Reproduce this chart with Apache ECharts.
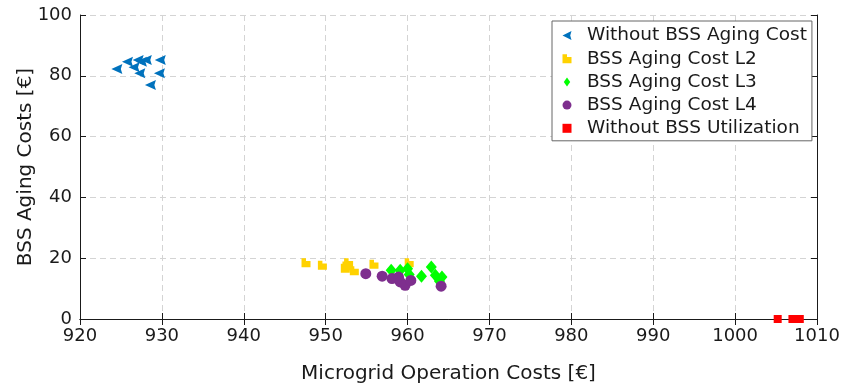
<!DOCTYPE html>
<html>
<head>
<meta charset="utf-8">
<script src="https://cdn.jsdelivr.net/npm/echarts@6/dist/echarts.min.js"></script>
<style>
  html, body { margin: 0; padding: 0; background: #fff; }
  #chart { width: 845px; height: 391px; }
</style>
</head>
<body>
<div id="chart"></div>
<script>
// Operation costs vs. BSS aging costs for each scenario
const seriesNames = [
  'Without BSS Aging Cost',
  'BSS Aging Cost L2',
  'BSS Aging Cost L3',
  'BSS Aging Cost L4',
  'Without BSS Utilization'
];

const noAgingX = [924.5, 925.8, 926.6, 927.1, 927.5, 928.1, 927.3, 928.6, 929.8, 929.7];
const noAgingY = [82.2, 84.6, 82.8, 85.2, 84.6, 85.2, 80.8, 77.0, 85.2, 80.8];

const agingL2X = [947.6, 949.6, 952.4, 952.8, 952.6, 953.5, 955.9, 960.2];
const agingL2Y = [18.5, 17.7, 16.7, 18.5, 17.4, 15.9, 18.0, 18.5];

const agingL3X = [958.0, 959.1, 960.0, 960.2, 961.7, 962.9, 963.4, 964.2, 963.9];
const agingL3Y = [16.0, 16.0, 16.5, 14.6, 14.1, 17.1, 14.4, 13.8, 12.4];

const agingL4X = [954.9, 956.9, 958.1, 958.9, 959.1, 959.7, 960.4, 964.1];
const agingL4Y = [14.9, 14.1, 13.3, 13.8, 12.2, 11.1, 12.7, 10.8];

const noBssX = [1005.2, 1007.0, 1007.5, 1007.9];
const noBssY = [0, 0, 0, 0];

const xTicks = { min: 920, max: 1010, interval: 10 };
const yTicks = { min: 0, max: 100, interval: 20 };

const FONT = 'DejaVu Sans';
const INK = '#1a1a1a';

function pairs(xs, ys) {
  return xs.map((x, i) => [x, ys[i]]);
}

// marker outlines (kept as paths so legend icons keep their aspect ratio)
const arrowLeft = 'path://M0,5 L10,0 L8.6,5 L10,10 Z';
const flagMark = 'path://M0,0 L5,0 L5,3 L10,3 L10,10 L0,10 Z';
const diamondMark = 'path://M5,0 L10,7 L5,14 L0,7 Z';
const squareMark = 'path://M0,0 L10,0 L10,10 L0,10 Z';
const dotMark = 'circle';

const chart = echarts.init(document.getElementById('chart'), null, { renderer: 'canvas' });

const axisLineStyle = { lineStyle: { color: INK, width: 1 } };
const tickStyle = { inside: true, length: 6, lineStyle: { color: INK, width: 1 } };
const gridLine = { show: true, lineStyle: { color: '#d4d4d4', type: [6, 4], width: 1 } };
const plain = v => String(v);

chart.setOption({
  animation: false,
  backgroundColor: '#fff',
  textStyle: { fontFamily: FONT, color: INK },
  grid: { left: 80, right: 28, top: 15, bottom: 72, containLabel: false },
  legend: {
    orient: 'vertical',
    left: 552,
    top: 21,
    padding: [5, 5, 3, 10.5],
    itemGap: 4.2,
    itemWidth: 30,
    itemHeight: 9,
    backgroundColor: '#fff',
    borderColor: '#666',
    borderWidth: 1,
    textStyle: { fontFamily: FONT, fontSize: 18.5, lineHeight: 18, color: INK },
    data: [
      { name: seriesNames[0], icon: arrowLeft },
      { name: seriesNames[1], icon: flagMark },
      { name: seriesNames[2], icon: diamondMark },
      { name: seriesNames[3], icon: dotMark },
      { name: seriesNames[4], icon: squareMark }
    ]
  },
  xAxis: [
    {
      type: 'value',
      min: xTicks.min, max: xTicks.max, interval: xTicks.interval,
      name: 'Microgrid Operation Costs [€]',
      nameLocation: 'middle',
      nameGap: 45,
      nameTextStyle: { fontFamily: FONT, fontSize: 20, color: INK },
      axisLine: axisLineStyle,
      axisTick: tickStyle,
      axisLabel: { fontFamily: FONT, fontSize: 18, color: INK, margin: 8, formatter: plain },
      splitLine: gridLine
    },
    {
      type: 'value', position: 'top',
      min: xTicks.min, max: xTicks.max, interval: xTicks.interval,
      axisLine: axisLineStyle,
      axisTick: tickStyle,
      axisLabel: { show: false },
      splitLine: { show: false }
    }
  ],
  yAxis: [
    {
      type: 'value',
      min: yTicks.min, max: yTicks.max, interval: yTicks.interval,
      name: 'BSS Aging Costs [€]',
      nameLocation: 'middle',
      nameGap: 44,
      nameMoveOverlap: false,
      nameTextStyle: { fontFamily: FONT, fontSize: 20, color: INK },
      axisLine: { show: true, lineStyle: { color: INK, width: 1 } },
      axisTick: { show: true, inside: true, length: 6, lineStyle: { color: INK, width: 1 } },
      axisLabel: { fontFamily: FONT, fontSize: 18, color: INK, margin: 8, formatter: plain },
      splitLine: gridLine
    },
    {
      type: 'value', position: 'right',
      min: yTicks.min, max: yTicks.max, interval: yTicks.interval,
      axisLine: { show: true, lineStyle: { color: INK, width: 1 } },
      axisTick: { show: true, inside: true, length: 6, lineStyle: { color: INK, width: 1 } },
      axisLabel: { show: false },
      splitLine: { show: false }
    }
  ],
  series: [
    {
      name: seriesNames[0], type: 'scatter',
      symbol: arrowLeft, symbolSize: [11, 10],
      itemStyle: { color: '#0072BD', opacity: 1 },
      data: pairs(noAgingX, noAgingY)
    },
    {
      name: seriesNames[1], type: 'scatter',
      symbol: flagMark, symbolSize: [9, 9],
      itemStyle: { color: '#FFD200', opacity: 1 },
      data: pairs(agingL2X, agingL2Y)
    },
    {
      name: seriesNames[2], type: 'scatter',
      symbol: diamondMark, symbolSize: [11, 13],
      itemStyle: { color: '#00FF00', opacity: 1 },
      data: pairs(agingL3X, agingL3Y)
    },
    {
      name: seriesNames[3], type: 'scatter',
      symbol: dotMark, symbolSize: 11,
      itemStyle: { color: '#7E2F8E', opacity: 1 },
      data: pairs(agingL4X, agingL4Y)
    },
    {
      name: seriesNames[4], type: 'scatter',
      symbol: squareMark, symbolSize: 8,
      clip: false,
      itemStyle: { color: '#FF0000', opacity: 1 },
      data: pairs(noBssX, noBssY)
    }
  ]
});
</script>
</body>
</html>
